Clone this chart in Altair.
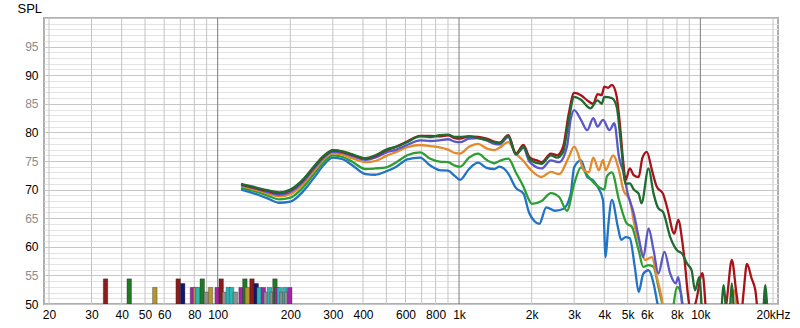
import altair as alt
import pandas as pd

# ---------------- data ----------------
F_LF = [125, 140, 160, 180, 200, 225, 250, 275, 300, 330, 360, 410, 450, 500, 550, 610,
        690, 760, 830, 900, 960, 1010, 1100, 1200, 1300, 1400, 1470, 1600, 1720, 1850, 1950]

blue_lf = [70.0, 69.4, 68.5, 67.7, 67.9, 69.6, 72.0, 74.3, 75.6, 75.3, 74.3, 72.7, 72.6, 73.2, 74.0, 75.3,
           75.6, 74.2, 73.4, 73.3, 72.4, 71.7, 73.6, 74.7, 73.8, 73.6, 74.0, 72.8, 70.3, 69.3, 66.0]
green_lf = [70.3, 69.8, 69.0, 68.3, 68.6, 70.3, 72.7, 74.8, 76.0, 75.7, 74.9, 73.6, 73.7, 73.9, 74.8, 76.0,
            76.5, 75.4, 74.9, 74.8, 74.2, 74.0, 75.6, 76.3, 75.2, 74.6, 75.0, 75.4, 73.0, 70.5, 68.2]
orange_lf = [70.6, 70.1, 69.4, 68.8, 69.2, 70.9, 73.2, 75.3, 76.4, 76.1, 75.5, 74.8, 75.0, 75.9, 76.6, 77.4,
             77.8, 77.6, 77.4, 77.0, 76.4, 76.3, 77.5, 78.0, 77.2, 76.9, 77.3, 78.3, 76.3, 75.0, 73.8]
purple_lf = [70.8, 70.3, 69.6, 69.1, 69.6, 71.3, 73.6, 75.6, 76.6, 76.4, 75.9, 75.2, 75.6, 76.5, 77.0, 77.8,
             78.6, 78.5, 78.6, 78.8, 78.4, 78.3, 78.9, 79.0, 78.6, 78.0, 77.9, 79.2, 76.2, 77.3, 75.0]
red_lf = [70.9, 70.4, 69.8, 69.4, 69.9, 71.6, 73.9, 75.8, 76.8, 76.6, 76.1, 75.4, 75.9, 76.9, 77.5, 78.4,
          79.4, 79.4, 79.3, 79.5, 79.0, 78.9, 79.3, 79.2, 78.9, 78.4, 78.2, 79.5, 76.3, 77.8, 75.8]
dkgreen_lf = [71.0, 70.5, 69.9, 69.5, 70.0, 71.7, 74.0, 75.9, 76.9, 76.7, 76.2, 75.5, 76.0, 77.0, 77.5, 78.3,
              79.3, 79.2, 79.5, 79.6, 79.2, 79.2, 79.3, 79.0, 78.7, 78.3, 78.1, 79.4, 76.1, 77.5, 75.5]

blue_hf_f = [2050, 2150, 2300, 2500, 2700, 2900, 3000, 3200, 3400, 3600, 3750, 3950, 4050, 4150, 4300,
             4550, 4700, 4900, 5100, 5350, 5550, 5800, 6100, 6400, 6600, 6900]
blue_hf = [64.5, 64.0, 66.9, 66.3, 66.6, 69.2, 73.9, 75.1, 72.2, 71.6, 70.5, 68.2, 58.2, 63.5, 68.2,
           63.5, 61.2, 61.7, 61.5, 56.5, 52.1, 55.3, 55.9, 53.6, 50.7, 46.0]

green_hf_f = [2000, 2200, 2400, 2600, 2800, 3000, 3200, 3400, 3600, 3800, 4000, 4100, 4300, 4600, 4950,
              5200, 5550, 5800, 6100, 6400, 6700, 6900, 7200, 7600, 8000, 8300, 8600]
green_hf = [67.5, 68.0, 69.4, 68.7, 66.3, 71.0, 73.9, 72.5, 71.3, 70.4, 70.0, 72.3, 73.0, 68.2, 64.1,
            63.5, 59.4, 56.5, 56.8, 56.5, 53.0, 50.7, 47.0, 48.0, 53.0, 52.0, 46.0]

orange_hf_f = [2000, 2200, 2400, 2600, 2850, 3000, 3300, 3450, 3600, 3800, 3950, 4050, 4350, 4600, 4800,
               5100, 5350, 5600, 5900, 6300, 6600, 6900, 7200, 12500, 13300, 13800, 14300]
orange_hf = [73.3, 72.2, 73.1, 72.7, 75.7, 77.5, 73.4, 73.0, 75.6, 73.4, 75.2, 73.4, 76.0, 73.4, 69.9,
             68.2, 63.5, 60.6, 57.7, 58.2, 54.7, 51.2, 46.0, 46.0, 48.0, 52.4, 46.0]

purple_hf_f = [2000, 2200, 2400, 2600, 2800, 2900, 3000, 3200, 3400, 3600, 3750, 3950, 4200, 4400, 4600,
               4800, 5000, 5300, 5550, 5800, 6100, 6400, 6700, 7100, 7500, 7900, 8100, 8400, 8700]
purple_hf = [74.5, 73.7, 75.1, 74.8, 77.5, 82.2, 83.9, 82.2, 80.4, 82.5, 81.0, 82.2, 80.4, 81.6, 75.7,
             73.0, 69.3, 65.8, 61.7, 58.2, 63.2, 59.4, 55.3, 59.1, 55.3, 53.6, 54.7, 50.1, 46.0]

red_hf_f = [2000, 2100, 2200, 2400, 2550, 2700, 2850, 3000, 3200, 3400, 3600, 3750, 3900, 4000, 4150,
            4300, 4500, 4650, 4800, 4900, 5100, 5300, 5550, 5750, 6000, 6300, 6600, 7000, 7300, 7800,
            8100, 8400, 8600, 8900, 9200, 9600, 10200, 10600, 11200, 12200, 12900, 13500, 14100, 14700,
            15100, 15600, 16300, 16900, 17400, 18200, 18700, 19300, 20000]
red_hf = [75.4, 75.1, 74.8, 76.3, 76.0, 77.5, 83.3, 86.9, 86.5, 85.6, 85.0, 86.7, 86.5, 88.0, 87.8,
          88.3, 86.3, 81.0, 74.5, 71.7, 73.7, 72.5, 72.2, 75.5, 76.6, 73.4, 70.5, 69.3, 66.7, 62.3,
          64.7, 61.2, 57.7, 51.3, 48.0, 50.5, 55.4, 48.0, 44.0, 44.0, 51.0, 57.7, 52.0, 47.5,
          52.0, 57.0, 54.5, 52.4, 48.0, 47.0, 51.0, 45.0, 44.0]

dkgreen_hf_f = [2000, 2200, 2400, 2550, 2700, 2850, 3000, 3200, 3500, 3750, 3900, 4000, 4300, 4500, 4700,
                4900, 5100, 5300, 5550, 5700, 6100, 6400, 6700, 7000, 7500, 8000, 8400, 8800, 9200,
                9500, 9900, 10200, 10800, 12000, 12500, 12900, 13200, 13500, 13900, 15000, 18000,
                18600, 19100, 20000]
dkgreen_hf = [75.0, 74.5, 76.0, 75.6, 76.6, 82.2, 86.2, 85.7, 84.2, 85.6, 85.0, 86.2, 86.0, 84.5, 77.5,
              71.0, 71.1, 70.0, 69.3, 67.6, 73.7, 69.3, 66.7, 66.1, 61.7, 59.4, 58.8, 57.1, 55.9,
              52.4, 54.7, 48.0, 44.0, 45.0, 53.3, 47.0, 48.0, 53.6, 47.0, 44.0, 46.0,
              53.3, 47.0, 44.0]

# room-mode style markers at the bottom
bar_freq = [34.3, 43.0, 54.9, 68.6, 71.6, 78.6, 80.9, 82.8, 86.3, 89.7, 93.4, 99.5, 103.4, 106.8,
            110.7, 114.1, 118.3, 125.0, 129.6, 132.7, 138.7, 144.4, 148.5, 154.6, 158.6, 163.9,
            168.0, 172.7, 176.0, 180.0, 184.5, 189.7, 193.0, 198.9]
bar_level = [54.4, 54.4, 52.9, 54.4, 53.6, 52.9, 52.9, 52.9, 54.4, 52.1, 52.9, 52.9, 54.4, 52.1,
             52.9, 52.9, 52.1, 52.9, 54.4, 52.9, 54.4, 53.6, 52.9, 52.9, 52.1, 52.9,
             52.1, 54.4, 52.9, 52.9, 52.1, 52.9, 52.1, 52.9]
bar_kind = ["red", "green", "gold", "red", "navy", "magenta", "gold", "teal", "green", "gray", "gold",
            "magenta", "red", "gray", "teal", "teal", "gray", "magenta", "green", "gold", "red", "navy",
            "teal", "magenta", "gray", "teal", "gray", "green", "magenta", "teal", "gray", "teal", "gray",
            "magenta"]

x_ticks = [20, 30, 40, 50, 60, 70, 80, 90, 100, 200, 300, 400, 500, 600, 700, 800, 900, 1000,
           2000, 3000, 4000, 5000, 6000, 7000, 8000, 9000, 10000, 20000]
x_major = [100, 1000, 10000]
x_label_vals = [20, 30, 40, 50, 60, 80, 100, 200, 300, 400, 600, 800, 1000, 2000, 3000, 4000,
                5000, 6000, 8000, 10000, 20000]
x_label_txt = ["20", "30", "40", "50", "60", "80", "100", "200", "300", "400", "600", "800", "1k",
               "2k", "3k", "4k", "5k", "6k", "8k", "10k", "20kHz"]
y_ticks = list(range(50, 101))

# ---------------- tables ----------------
series = [
    ("s1", F_LF + blue_hf_f, blue_lf + blue_hf),
    ("s2", F_LF + green_hf_f, green_lf + green_hf),
    ("s3", F_LF + orange_hf_f, orange_lf + orange_hf),
    ("s4", F_LF + purple_hf_f, purple_lf + purple_hf),
    ("s5", F_LF + red_hf_f, red_lf + red_hf),
    ("s6", F_LF + dkgreen_hf_f, dkgreen_lf + dkgreen_hf),
]
rows = []
for name, fs, vs in series:
    for i, (f, v) in enumerate(zip(fs, vs)):
        rows.append({"s": name, "f": f, "db": v, "i": i})
lines_df = pd.DataFrame(rows)
bars_df = pd.DataFrame({"f": bar_freq, "db": bar_level, "k": bar_kind})
grid_df = pd.DataFrame({"f": x_ticks, "major": [t in x_major for t in x_ticks]})

line_colors = ["#2173c4", "#2d9e33", "#e38a2b", "#5b57c9", "#a8121a", "#1f6b30"]
bar_domain = ["red", "green", "gold", "navy", "magenta", "teal", "gray"]
bar_colors = ["#8e1a1a", "#1f7a22", "#b39434", "#14146e", "#a226a6", "#2cb7b7", "#8f8f8f"]

label_expr = "".join(f"datum.value == {v} ? '{t}' : " for v, t in zip(x_label_vals, x_label_txt)) + "''"

x_scale = alt.Scale(type="log", domain=[20, 20000], nice=False)
y_scale = alt.Scale(domain=[50, 100], nice=False, zero=False)

x_axis = alt.Axis(values=x_ticks, labelExpr=label_expr, title=None, ticks=False, domain=False, grid=False,
                  labelPadding=5, labelOverlap=False, labelFlush=False)
y_axis = alt.Axis(values=y_ticks, title="SPL", titleAngle=0, titleX=-27, titleY=-6, titleAlign="left",
                  titleBaseline="alphabetic", titleFontWeight="normal", titleFontSize=13,
                  titleFont="Liberation Sans", titleColor="#000000",
                  ticks=False, domain=False, labelPadding=6, labelOverlap=False, labelFlush=False,
                  labelExpr="(datum.value % 5 == 0 && datum.value < 100) ? datum.value : ''",
                  labelColor=alt.condition("datum.value % 10 == 5", alt.value("#8c8c8c"), alt.value("#000000")),
                  gridColor=alt.condition("datum.value % 5 == 0", alt.value("#c6c6c6"), alt.value("#e3e3e3")))

vgrid = alt.Chart(grid_df).mark_rule(strokeWidth=1).encode(
    x=alt.X("f:Q", scale=x_scale, axis=x_axis),
    color=alt.Color("major:N", scale=alt.Scale(domain=[True, False], range=["#7c7c7c", "#c4c4c4"]), legend=None),
)

bars = alt.Chart(bars_df).mark_bar(size=4.5, clip=True, stroke="#2a2a2a", strokeWidth=0.6,
                                   strokeOpacity=0.6).encode(
    x=alt.X("f:Q", scale=x_scale, axis=x_axis),
    y=alt.Y("db:Q", scale=y_scale, axis=y_axis),
    y2=alt.datum(50),
    color=alt.Color("k:N", scale=alt.Scale(domain=bar_domain, range=bar_colors), legend=None),
)

lines = alt.Chart(lines_df).mark_line(clip=True, strokeWidth=2.3, interpolate="monotone").encode(
    x=alt.X("f:Q", scale=x_scale, axis=x_axis),
    y=alt.Y("db:Q", scale=y_scale, axis=y_axis),
    color=alt.Color("s:N", scale=alt.Scale(domain=[s[0] for s in series], range=line_colors), legend=None),
    order=alt.Order("i:Q"),
)

chart = alt.layer(vgrid, bars, lines).resolve_scale(color="independent").properties(
    width=734, height=286,
    padding={"left": 44, "top": 18, "right": 22, "bottom": 24},
    autosize=alt.AutoSizeParams(type="none"),
    background="#ffffff",
).configure_view(stroke="#b0b0b0", strokeWidth=2).configure_axis(
    labelFont="Liberation Sans", labelFontSize=12, labelColor="#000000", gridWidth=1, gridOpacity=1,
)

chart.save("out.html", embed_options={"renderer": "svg", "actions": False})
